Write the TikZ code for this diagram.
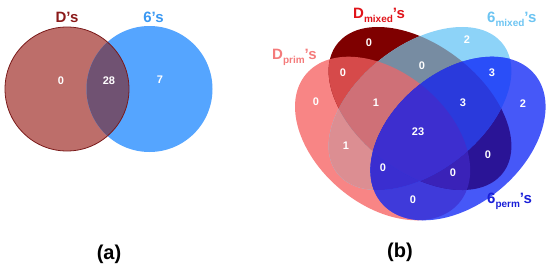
\documentclass[tikz,border=0pt]{standalone}
\usepackage{fontspec}
\setmainfont{Liberation Sans}
\definecolor{aL}{HTML}{BD6E6A}
\definecolor{aR}{HTML}{55A5FF}
\definecolor{aLR}{HTML}{705272}
\definecolor{aLine}{HTML}{7A1A1A}
\definecolor{aLabL}{HTML}{8B1A1A}
\definecolor{aLabR}{HTML}{3A98F2}
\definecolor{cP}{HTML}{F88585}
\definecolor{cM}{HTML}{7F0000}
\definecolor{cX}{HTML}{8DD3F8}
\definecolor{cQ}{HTML}{4658F8}
\definecolor{cPM}{HTML}{D64A4A}
\definecolor{cPX}{HTML}{DC8E92}
\definecolor{cPQ}{HTML}{3F3ADA}
\definecolor{cMX}{HTML}{778CA2}
\definecolor{cMQ}{HTML}{2A1496}
\definecolor{cXQ}{HTML}{2A4EF8}
\definecolor{cPMX}{HTML}{CF7077}
\definecolor{cPMQ}{HTML}{3A22B8}
\definecolor{cPXQ}{HTML}{3A2ED0}
\definecolor{cMXQ}{HTML}{2A3ADC}
\definecolor{cPMXQ}{HTML}{3D2ECF}
\definecolor{lP}{HTML}{F47B7B}
\definecolor{lM}{HTML}{E0141A}
\definecolor{lX}{HTML}{6CC4F2}
\definecolor{lQ}{HTML}{1A1FD8}
\newcommand\pP{(382.6,130.5) ellipse (100pt and 66pt)}
\newcommand\pQ{(458,130.5) ellipse (100pt and 66pt)}
\newcommand\pM{(420,160.5) ellipse (105pt and 63pt)}
\newcommand\pX{(420,160.5) ellipse (105pt and 63pt)}
\begin{document}
\begin{tikzpicture}[x=1pt,y=1pt,
  num/.style={text=white,font=\fontsize{11}{11}\selectfont\bfseries,inner sep=0pt},
  setlab/.style={font=\fontsize{15}{15}\selectfont\bfseries,inner sep=0pt,anchor=base west},
  panelcap/.style={font=\fontsize{20}{20}\selectfont\bfseries,inner sep=0pt},
  eP/.style={rotate around={-40:(382.6,130.5)}},
  eQ/.style={rotate around={40:(458,130.5)}},
  eM/.style={rotate around={-38:(420,160.5)}},
  eX/.style={rotate around={38:(420,160.5)}}]
\useasboundingbox (0,0) rectangle (550,269);
% ---------- panel (a)
\fill[aL] (67,180) circle (62pt);
\fill[aR] (149.5,180) circle (63pt);
\begin{scope}
  \clip (67,180) circle (62pt);
  \fill[aLR] (149.5,180) circle (63pt);
\end{scope}
\draw[aLine,line width=0.8pt] (67,180) circle (62pt);
\node[setlab,anchor=base,text=aLabL] (labD) at (67,247) {D’s};
\node[setlab,anchor=base,text=aLabR] (lab6) at (153.5,247) {6’s};
\node[num] (a1) at (61,188) {0};
\node[num] (a2) at (109,188) {28};
\node[num] (a3) at (160,189) {7};
\node[panelcap] (capa) at (109,15) {(a)};
% ---------- panel (b)
\fill[cP,eP] \pP;
\fill[cM,eM] \pM;
\fill[cX,eX] \pX;
\fill[cQ,eQ] \pQ;
\begin{scope}
  \clip[eP] \pP;
  \fill[cPM,eM] \pM;
  \fill[cPX,eX] \pX;
  \fill[cPQ,eQ] \pQ;
\end{scope}
\begin{scope}
  \clip[eM] \pM;
  \fill[cMX,eX] \pX;
  \fill[cMQ,eQ] \pQ;
\end{scope}
\begin{scope}
  \clip[eX] \pX;
  \fill[cXQ,eQ] \pQ;
\end{scope}
\begin{scope}
  \clip[eP] \pP; \clip[eM] \pM;
  \fill[cPMX,eX] \pX;
  \fill[cPMQ,eQ] \pQ;
\end{scope}
\begin{scope}
  \clip[eP] \pP; \clip[eX] \pX;
  \fill[cPXQ,eQ] \pQ;
\end{scope}
\begin{scope}
  \clip[eM] \pM; \clip[eX] \pX;
  \fill[cMXQ,eQ] \pQ;
\end{scope}
\begin{scope}
  \clip[eP] \pP; \clip[eM] \pM; \clip[eX] \pX;
  \fill[cPMXQ,eQ] \pQ;
\end{scope}
\node[setlab,text=lP] (labP) at (272,210) {D\raisebox{-4.5pt}{\fontsize{10}{10}\selectfont prim}’s};
\node[setlab,text=lM] (labM) at (353,251) {D\raisebox{-4.5pt}{\fontsize{10}{10}\selectfont mixed}’s};
\node[setlab,text=lX] (labX) at (487,247) {6\raisebox{-4.5pt}{\fontsize{10}{10}\selectfont mixed}’s};
\node[setlab,text=lQ] (labQ) at (487,66) {6\raisebox{-4.5pt}{\fontsize{10}{10}\selectfont perm}’s};
\node[num] (b1) at (369,226) {0};
\node[num] (b2) at (467,229) {2};
\node[num] (b3) at (343,196) {0};
\node[num] (b4) at (422,203) {0};
\node[num] (b5) at (492,196) {3};
\node[num] (b6) at (316,167) {0};
\node[num] (b7) at (376,166) {1};
\node[num] (b8) at (463,166) {3};
\node[num] (b9) at (523,165) {2};
\node[num] (b10) at (418,137) {23};
\node[num] (b11) at (346,123) {1};
\node[num] (b12) at (488,114) {0};
\node[num] (b13) at (383,101) {0};
\node[num] (b14) at (453,96) {0};
\node[num] (b15) at (413,69) {0};
\node[panelcap] (capb) at (400,17) {(b)};
\end{tikzpicture}
\end{document}
